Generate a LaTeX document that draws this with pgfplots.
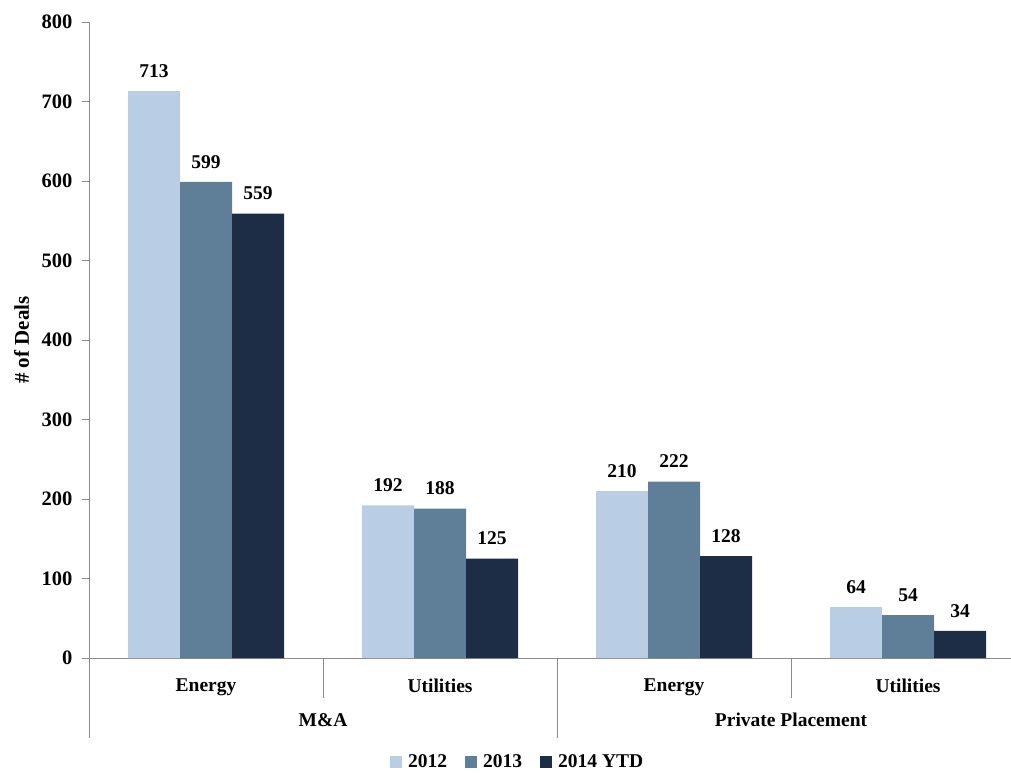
\documentclass[border=0pt]{standalone}
\usepackage{fontspec}
\setmainfont{Liberation Serif}
\usepackage{pgfplots}
\pgfplotsset{compat=1.18}
\definecolor{c1}{HTML}{B9CDE5}
\definecolor{c2}{HTML}{5F7F99}
\definecolor{c3}{HTML}{1D2D45}
\definecolor{axgray}{HTML}{8C8C8C}
\pgfplotsset{sq legend/.style={legend image code/.code={\fill[##1] (0pt,-6pt) rectangle (12pt,6pt); \path (16pt,0pt);}}}
\begin{document}
\begin{tikzpicture}[font=\fontsize{19}{23}\selectfont\bfseries]
\path[use as bounding box] (0,0) rectangle (1011pt,773pt);
\begin{axis}[
 at={(89pt,115pt)}, anchor=south west,
 width=922pt, height=636pt, scale only axis,
 ybar=0pt, bar width=52pt,
 xmin=-0.5, xmax=3.44, ymin=0, ymax=800,
 ytick={0,100,...,800},
 xtick={0,1,2,3}, xticklabels={Energy,Utilities,Energy,Utilities},
 axis x line*=bottom, axis y line*=left,
 x axis line style={-, draw=axgray},
 y axis line style={-, draw=axgray},
 xtick style={draw=none},
 ytick style={draw=axgray},
 tick align=outside, major tick length=7pt,
 /pgf/number format/assume math mode=true,
 yticklabel style={font=\fontsize{20.5}{24}\selectfont\bfseries, xshift=-6pt},
 xticklabel style={font=\fontsize{19.5}{23}\selectfont\bfseries, yshift=-10pt},
 ylabel={\# of Deals},
 ylabel style={at={(axis description cs:-0.073,0.5)}, anchor=center, font=\fontsize{21}{25}\selectfont\bfseries},
 clip=false,
 nodes near coords,
 nodes near coords style={yshift=10pt, font=\fontsize{19.5}{23}\selectfont\bfseries, text=black},
 legend style={at={(0.465,-0.163)}, anchor=center, legend columns=3, draw=none, fill=none,
   font=\fontsize{19.5}{23}\selectfont\bfseries,
   /tikz/every even column/.append style={column sep=16pt}},
]
\addplot[fill=c1, draw=none, sq legend] coordinates {(0,713) (1,192) (2,210) (3,64)};
\addplot[fill=c2, draw=none, sq legend] coordinates {(0,599) (1,188) (2,222) (3,54)};
\addplot[fill=c3, draw=none, sq legend] coordinates {(0,559) (1,125) (2,128) (3,34)};
\legend{2012,2013,2014 YTD}
\draw[axgray] (axis cs:-0.5,0) -- ([yshift=-80pt]axis cs:-0.5,0);
\draw[axgray] (axis cs:0.5,0) -- ([yshift=-40pt]axis cs:0.5,0);
\draw[axgray] (axis cs:1.5,0) -- ([yshift=-80pt]axis cs:1.5,0);
\draw[axgray] (axis cs:2.5,0) -- ([yshift=-40pt]axis cs:2.5,0);
\node[font=\fontsize{19.5}{23}\selectfont\bfseries] at ([yshift=-62pt]axis cs:0.5,0) {M\&A};
\node[font=\fontsize{19.5}{23}\selectfont\bfseries] at ([yshift=-62pt]axis cs:2.5,0) {Private Placement};
\end{axis}
\end{tikzpicture}
\end{document}
